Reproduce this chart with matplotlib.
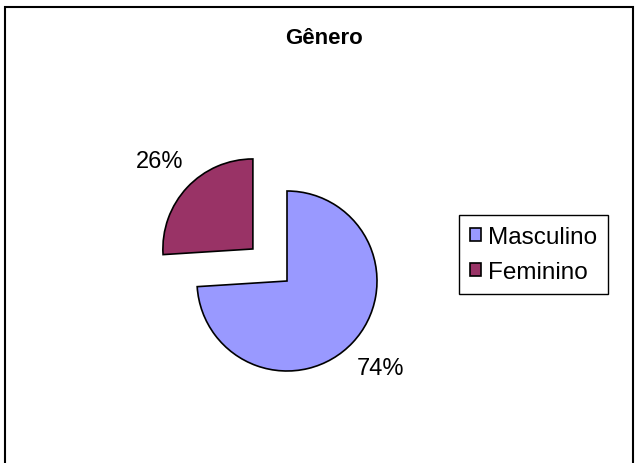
import matplotlib.pyplot as plt
from matplotlib.patches import Rectangle

categorias = ['Masculino', 'Feminino']
valores = [74, 26]
cores = ['#9999FF', '#993366']

plt.rcParams['font.family'] = ['Liberation Sans', 'DejaVu Sans']

fig = plt.figure(figsize=(6.39, 4.64), dpi=100)
W, H = 639, 464

# moldura externa (estilo Excel)
fig.patches.append(Rectangle((5 / W, -0.01), 628 / W, 1 - 8 / H + 0.01,
                             transform=fig.transFigure, fill=False,
                             edgecolor='black', linewidth=1.5))

fig.text(324 / W, 1 - 38 / H, 'Gênero', ha='center', va='center',
         fontsize=16, fontweight='bold')

# eixo com 1 unidade = 90 px, centro da pizza em (287, 282)
cx, cy, r = 287, 282, 90
ax = fig.add_axes([(cx - 2 * r) / W, (H - cy - 2 * r) / H, 4 * r / W, 4 * r / H])

wedges, textos, pct = ax.pie(valores, colors=cores, startangle=90, counterclock=False,
                             explode=[0, 0.52], autopct='%1.0f%%', pctdistance=1.42,
                             wedgeprops=dict(edgecolor='black', linewidth=1.2),
                             textprops=dict(fontsize=17, color='black'))
ax.set_xlim(-2, 2)
ax.set_ylim(-2, 2)
ax.axis('off')

leg = ax.legend(wedges, categorias, loc='upper left',
                bbox_to_anchor=(459 / W, 1 - 216 / H), bbox_transform=fig.transFigure,
                borderaxespad=0, fancybox=False, edgecolor='black', framealpha=1,
                fontsize=17.5, handlelength=0.45, handleheight=0.45, handletextpad=0.3,
                labelspacing=0.55, borderpad=0.45)
leg.get_frame().set_linewidth(1.0)

fig.savefig('out.png', dpi=100)
